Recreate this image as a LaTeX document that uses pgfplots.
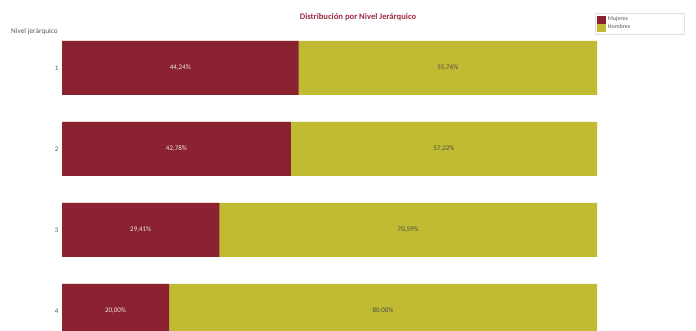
\documentclass[border=0pt]{standalone}
\usepackage{fontspec}
\setmainfont{Carlito}
\usepackage{pgfplots}
\pgfplotsset{compat=1.18}
\definecolor{muj}{HTML}{8B2232}
\definecolor{hom}{HTML}{C1BA33}
\definecolor{tit}{HTML}{9B2B44}
\definecolor{lab}{HTML}{595959}
\begin{document}
\begin{tikzpicture}[x=1pt,y=1pt]
\path[use as bounding box] (0,0) rectangle (696,331);
\begin{axis}[
  at={(62pt,0pt)}, anchor=south west,
  width=535pt, height=303.5pt, scale only axis,
  xmin=0, xmax=100, ymin=0.5, ymax=4.247, y dir=reverse,
  axis line style={draw=none},
  tick style={draw=none},
  xtick=\empty, ytick={1,2,3,4},
  yticklabel style={font=\fontsize{7}{8}\selectfont, text=lab},
  /pgf/number format/assume math mode=true,
  legend style={at={(0.996,1.048)}, anchor=north west, draw=gray!25,
    font=\fontsize{6}{7}\selectfont, text=lab, row sep=-1.5pt, inner sep=1.5pt,
    nodes={text width=72pt, inner xsep=3pt}},
  legend cell align=left,
]
\addplot[xbar, bar width=54pt, bar shift=0pt, fill=hom, draw=none, forget plot]
  coordinates {(100,1) (100,2) (100,3) (100,4)};
\addplot[xbar, bar width=54pt, bar shift=0pt, fill=muj, draw=none, forget plot]
  coordinates {(44.24,1) (42.78,2) (29.41,3) (20.00,4)};
\addplot[draw=none, mark=none, forget plot, nodes near coords, point meta=explicit symbolic,
  nodes near coords style={anchor=center, font=\fontsize{7}{8}\selectfont, text=white!88!muj}]
  coordinates {(22.12,1) [44,24\%] (21.39,2) [42,78\%] (14.705,3) [29,41\%] (10,4) [20,00\%]};
\addplot[draw=none, mark=none, forget plot, nodes near coords, point meta=explicit symbolic,
  nodes near coords style={anchor=center, font=\fontsize{7}{8}\selectfont, text=black!70}]
  coordinates {(72.12,1) [55,76\%] (71.39,2) [57,22\%] (64.705,3) [70,59\%] (60,4) [80,00\%]};
\addlegendimage{legend image code/.code={\fill[muj] (0pt,-3.7pt) rectangle (8pt,3.7pt);}}
\addlegendentry{Mujeres}
\addlegendimage{legend image code/.code={\fill[hom] (0pt,-3.7pt) rectangle (8pt,3.7pt);}}
\addlegendentry{Hombres}
\end{axis}
\node[font=\bfseries\fontsize{8.6}{10}\selectfont, text=tit] at (358,314) {Distribución por Nivel Jerárquico};
\node[anchor=west, font=\fontsize{7.3}{8}\selectfont, text=lab, inner sep=0pt] at (11,299) {Nivel jerárquico};
\end{tikzpicture}
\end{document}
